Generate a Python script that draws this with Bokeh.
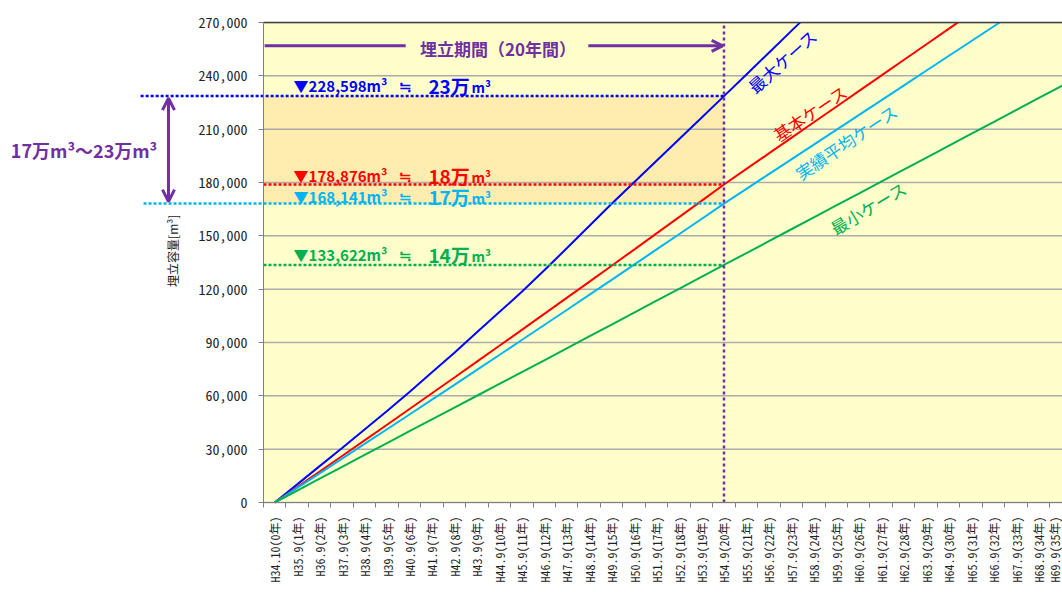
import math
from bokeh.plotting import figure
from bokeh.models import (Range1d, FixedTicker, NumeralTickFormatter, Label,
                          Arrow, OpenHead)
from bokeh.embed import file_html
from bokeh.resources import INLINE

# ---------------- data ----------------
x_labels = [
    "H34.10(0年)", "H35.9(1年)", "H36.9(2年)", "H37.9(3年)", "H38.9(4年)",
    "H39.9(5年)", "H40.9(6年)", "H41.9(7年)", "H42.9(8年)", "H43.9(9年)",
    "H44.9(10年)", "H45.9(11年)", "H46.9(12年)", "H47.9(13年)", "H48.9(14年)",
    "H49.9(15年)", "H50.9(16年)", "H51.9(17年)", "H52.9(18年)", "H53.9(19年)",
    "H54.9(20年)", "H55.9(21年)", "H56.9(22年)", "H57.9(23年)", "H58.9(24年)",
    "H59.9(25年)", "H60.9(26年)", "H61.9(27年)", "H62.9(28年)", "H63.9(29年)",
    "H64.9(30年)", "H65.9(31年)", "H66.9(32年)", "H67.9(33年)", "H68.9(34年)",
    "H69.9(35年)",
]

max_case = [0, 10200, 20450, 30700, 41100, 51500, 62100, 73200, 84300, 95700,
            107100, 118500, 130600, 143000, 155500, 168000, 180100, 192200,
            204300, 216400, 228598, 240800, 253000, 265300, 277500]
base_case = [0, 8700, 17430, 26180, 34950, 43760, 52590, 61440, 70320, 79220,
             88150, 97110, 106090, 115100, 124130, 133190, 142270, 151380,
             160520, 169680, 178876, 187630, 196380, 205130, 213880, 222630,
             231380, 240130, 248880, 257630, 266380, 275130]
avg_case = [0, 8200, 16420, 24670, 32930, 41220, 49520, 57850, 66200, 74580,
            82970, 91390, 99830, 108280, 116770, 125270, 133790, 142340,
            150900, 159490, 168141, 176440, 184740, 193040, 201340, 209640,
            217940, 226240, 234540, 242840, 251140, 259440, 267740, 276040]
min_case = [0, 6700, 13400, 20100, 26800, 33450, 40100, 46750, 53400, 60050,
            66700, 73350, 80000, 86700, 93400, 100100, 106800, 113500, 120200,
            126900, 133622, 140300, 147000, 153700, 160400, 167100, 173800,
            180500, 187200, 193900, 200600, 207300, 214000, 220700, 227400,
            234100, 240800]

case_names = ["最大ケース", "基本ケース", "実績平均ケース", "最小ケース"]
man_labels = ["23万", "18万", "17万", "14万"]
y_ticks = [0, 30000, 60000, 90000, 120000, 150000, 180000, 210000, 240000, 270000]
period_label = "埋立期間（20年間）"
range_label = "17万m³～23万m³"
y_title = "埋立容量[m³]"
target_year = 20

# ---------------- styling / layout ----------------
BLUE = "#0000FF"
RED = "#FF0000"
CYAN = "#00B4F0"
GREEN = "#00B050"
PURPLE = "#7030A0"
JP = "Noto Sans CJK JP"
MONO = "'Noto Sans Mono CJK JP', 'Noto Sans CJK JP'"

VPX = 270000 / 480.0      # value per pixel (vertical)
CAT_PX = 22.4625          # pixels per category
X0 = -0.5 - 263 / CAT_PX  # plot area starts 263 px from the left
X1 = 35.07
YMAX = 270000
Y0 = -90 * VPX            # room below the plot area for the category labels
Y1 = YMAX + 22 * VPX      # room above the plot area

p = figure(width=1062, height=592, output_backend="svg", toolbar_location=None,
           x_range=Range1d(X0, X1), y_range=Range1d(Y0, Y1),
           min_border_left=0, min_border_right=0, min_border_top=0,
           min_border_bottom=0)
p.background_fill_color = "white"
p.border_fill_color = "white"
p.outline_line_color = None
p.xgrid.visible = False
p.ygrid.visible = False

# plot area background
p.quad(left=[-0.5], right=[X1 + 5], bottom=[0], top=[YMAX],
       fill_color="#FFFFCC", line_color=None, level="image")

v_max = max_case[target_year]
v_base = base_case[target_year]
v_avg = avg_case[target_year]
v_min = min_case[target_year]
# shaded band between the 20-year values of the max and average cases
p.quad(left=[-0.5], right=[target_year], bottom=[v_avg], top=[v_max],
       fill_color="#FEEDAE", line_color=None, level="image")

# horizontal gridlines
p.segment(x0=[-0.5] * len(y_ticks), y0=y_ticks, x1=[X1 + 5] * len(y_ticks),
          y1=y_ticks, line_color="#ABABAB", line_width=1.5, level="underlay")

# y axis, drawn at the left edge of the plot area
p.yaxis.fixed_location = -0.5
p.yaxis.bounds = (0, YMAX)
p.yaxis.ticker = FixedTicker(ticks=y_ticks)
p.yaxis.formatter = NumeralTickFormatter(format="0,0")
p.yaxis.major_label_text_font = MONO
p.yaxis.major_label_text_font_size = "14px"
p.yaxis.major_label_text_color = "#222222"
p.yaxis.major_tick_out = 5
p.yaxis.major_tick_in = 0
p.yaxis.major_label_standoff = 11
p.yaxis.minor_tick_line_color = None
p.yaxis.axis_line_color = "#808080"
p.yaxis.major_tick_line_color = "#808080"

# x axis, drawn at the bottom edge of the plot area
n_cat = len(x_labels)
p.xaxis.fixed_location = 0
p.xaxis.bounds = (-0.5, X1 + 5)
p.xaxis.ticker = FixedTicker(ticks=list(range(n_cat)),
                             minor_ticks=[i + 0.5 for i in range(-1, n_cat)])
p.xaxis.major_label_overrides = {i: t for i, t in enumerate(x_labels)}
p.xaxis.major_label_orientation = math.pi / 2
p.xaxis.major_label_text_font = MONO
p.xaxis.major_label_text_font_size = "12px"
p.xaxis.major_label_text_color = "#222222"
p.xaxis.major_tick_line_color = None
p.xaxis.major_tick_out = 0
p.xaxis.major_tick_in = 0
p.xaxis.major_label_standoff = 9
p.xaxis.minor_tick_line_color = "#808080"
p.xaxis.minor_tick_out = 5
p.xaxis.minor_tick_in = 0
p.xaxis.axis_line_color = "#808080"

# series lines
series = [max_case, base_case, avg_case, min_case]
colors = [BLUE, RED, CYAN, GREEN]
for vals, c in zip(series, colors):
    p.line(x=list(range(len(vals))), y=vals, line_color=c, line_width=2)

# mask everything above the plot area, then the top border
p.quad(left=[X0 - 1], right=[X1 + 5], bottom=[YMAX], top=[Y1 + 10000],
       fill_color="white", line_color=None)
p.segment(x0=[-0.5], y0=[YMAX], x1=[X1 + 5], y1=[YMAX], line_color="#404040",
          line_width=1.5)

# horizontal dotted reference lines (blue and cyan extend left of the axis)
starts = [-5.97, -0.5, -5.84, -0.5]
vals20 = [v_max, v_base, v_avg, v_min]
p.segment(x0=starts, y0=vals20, x1=[target_year] * 4, y1=vals20,
          line_color=colors, line_width=2.5, line_dash="3 2")

# vertical dotted line at year 20
p.segment(x0=[target_year], y0=[0], x1=[target_year], y1=[YMAX],
          line_color=PURPLE, line_width=2.5, line_dash="3 3")

# y axis title
p.add_layout(Label(x=-4.551, y=141581, text=y_title, text_color="#222222",
                   text_font=JP, text_font_size="12px", angle=90,
                   angle_units="deg", text_align="center",
                   text_baseline="middle"))

# value labels
offs = [10.5, 8.5, 7.0, 10.0]
for v, c, man, off in zip(vals20, colors, man_labels, offs):
    y = v + off * VPX
    p.add_layout(Label(x=0.84, y=y, text="▼{:,}m³".format(v), text_color=c,
                       text_font=JP, text_font_size="15px", text_font_style="bold",
                       text_baseline="middle", text_align="left"))
    p.add_layout(Label(x=5.84, y=y, text="≒", text_color=c, text_font=JP,
                       text_font_size="15px", text_font_style="bold",
                       text_baseline="middle", text_align="center"))
    p.add_layout(Label(x=6.84, y=y, text=man, text_color=c, text_font=JP,
                       text_font_size="19px", text_font_style="bold",
                       text_baseline="middle", text_align="left"))
    p.add_layout(Label(x=8.76, y=y - 1 * VPX, text="m³", text_color=c, text_font=JP,
                       text_font_size="14px", text_font_style="bold",
                       text_baseline="middle", text_align="left"))

# rotated case labels
case_pos = [(22.6, 248456, 42), (23.84, 219206, 34), (25.45, 202894, 34),
            (26.43, 165769, 31)]
for name, c, (x, y, a) in zip(case_names, colors, case_pos):
    p.add_layout(Label(x=x, y=y, text=name, text_color=c, text_font=JP,
                       text_font_size="17px", angle=a, angle_units="deg",
                       text_align="center", text_baseline="middle"))

# top period arrow
ya = 256894
p.add_layout(Arrow(x_start=-0.45, y_start=ya, x_end=5.83, y_end=ya, start=None,
                   end=None, line_color=PURPLE, line_width=3))
p.add_layout(Arrow(x_start=13.96, y_start=ya, x_end=19.94, y_end=ya, start=None,
                   end=OpenHead(size=11, line_color=PURPLE, line_width=3),
                   line_color=PURPLE, line_width=3))
p.add_layout(Label(x=9.94, y=255488, text=period_label, text_color=PURPLE,
                   text_font=JP, text_font_size="17px", text_font_style="bold",
                   text_align="center", text_baseline="middle"))

# left double arrow with range text
p.add_layout(Arrow(x_start=-4.73, y_start=v_avg + 2 * VPX, x_end=-4.73,
                   y_end=v_max - 2 * VPX,
                   start=OpenHead(size=12, line_color=PURPLE, line_width=3),
                   end=OpenHead(size=12, line_color=PURPLE, line_width=3),
                   line_color=PURPLE, line_width=3))
p.add_layout(Label(x=-8.49, y=198394, text=range_label, text_color=PURPLE,
                   text_font=JP, text_font_size="18px", text_font_style="bold",
                   text_align="center", text_baseline="middle"))

open("out.html", "w").write(file_html(p, INLINE))
